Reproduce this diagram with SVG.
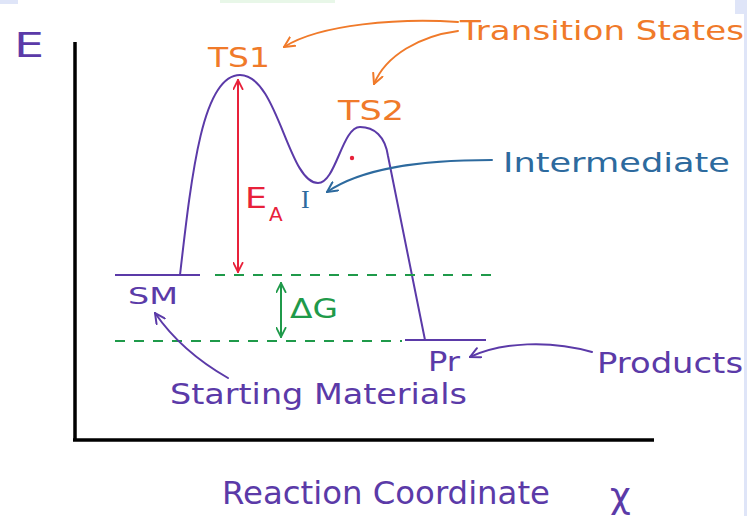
<svg xmlns="http://www.w3.org/2000/svg" width="747" height="516" viewBox="0 0 747 516">
<style>
text{font-family:"DejaVu Sans","Liberation Sans",sans-serif}
.pur{fill:#5b3aa8}.org{fill:#f07a2a}.blu{fill:#2d6a9e}.red{fill:#e8213a}.grn{fill:#1f9a4a}
.ln{fill:none;stroke-width:2;stroke-linecap:round}
.dash{fill:none;stroke:#1f9a4a;stroke-width:2;stroke-dasharray:10 9}
</style>
<defs>
<marker id="mo" viewBox="0 0 12 12" refX="11" refY="6" markerWidth="12" markerHeight="12" markerUnits="userSpaceOnUse" orient="auto-start-reverse"><path d="M1,1 L11,6 L1,11" fill="none" stroke="#f07a2a" stroke-width="2" stroke-linecap="round"/></marker>
<marker id="mb" viewBox="0 0 12 12" refX="11" refY="6" markerWidth="12" markerHeight="12" markerUnits="userSpaceOnUse" orient="auto-start-reverse"><path d="M1,1 L11,6 L1,11" fill="none" stroke="#2d6a9e" stroke-width="2" stroke-linecap="round"/></marker>
<marker id="mp" viewBox="0 0 12 12" refX="11" refY="6" markerWidth="12" markerHeight="12" markerUnits="userSpaceOnUse" orient="auto-start-reverse"><path d="M1,1 L11,6 L1,11" fill="none" stroke="#5b3aa8" stroke-width="2" stroke-linecap="round"/></marker>
<marker id="mr" viewBox="0 0 12 12" refX="11" refY="6" markerWidth="11" markerHeight="11" markerUnits="userSpaceOnUse" orient="auto-start-reverse"><path d="M1,1 L11,6 L1,11" fill="none" stroke="#e8213a" stroke-width="2" stroke-linecap="round"/></marker>
<marker id="mg" viewBox="0 0 12 12" refX="11" refY="6" markerWidth="11" markerHeight="11" markerUnits="userSpaceOnUse" orient="auto-start-reverse"><path d="M1,1 L11,6 L1,11" fill="none" stroke="#1f9a4a" stroke-width="2" stroke-linecap="round"/></marker>
</defs>
<rect width="747" height="516" fill="#ffffff"/>
<rect x="0" y="0" width="18" height="4" fill="#dfe5f8"/>
<rect x="220" y="0" width="115" height="3" fill="#e8f7e8"/>
<rect x="735" y="0" width="12" height="14" fill="#dfe5f8"/>
<rect x="744" y="0" width="3" height="516" fill="#dfe5f8"/>

<g id="axes">
<line x1="75" y1="42" x2="75" y2="441" stroke="#000" stroke-width="3.5"/>
<line x1="73" y1="440" x2="654" y2="440" stroke="#000" stroke-width="3.5"/>
<text x="14" y="57" font-size="34" class="pur" textLength="30" lengthAdjust="spacingAndGlyphs">E</text>
<text x="222" y="504" font-size="32" class="pur" textLength="328" lengthAdjust="spacingAndGlyphs">Reaction Coordinate</text>
<text x="610" y="508" font-size="36" class="pur">χ</text>
</g>

<g id="curve">
<path class="ln" stroke="#5b3aa8" d="M180,275 C192,170 203,75 240,75 C278,75 288,183 318,183 C336,183 342,127 360,127 C374,127 385,136 388,156 L425,340"/>
<line x1="115" y1="275" x2="200" y2="275" stroke="#5b3aa8" stroke-width="2"/>
<line x1="405" y1="340" x2="486" y2="340" stroke="#5b3aa8" stroke-width="2"/>
<circle cx="352" cy="158" r="2.2" fill="#e8213a"/>
</g>

<g id="levels">
<line class="dash" x1="215" y1="275" x2="492" y2="275"/>
<line class="dash" x1="115" y1="341" x2="402" y2="341"/>
</g>

<g id="TS1"><text x="208" y="67" font-size="27" class="org" textLength="62" lengthAdjust="spacingAndGlyphs">TS1</text></g>
<g id="TS2"><text x="338" y="120" font-size="27" class="org" textLength="66" lengthAdjust="spacingAndGlyphs">TS2</text></g>
<g id="transition-states"><text x="460" y="40" font-size="27" class="org" textLength="284" lengthAdjust="spacingAndGlyphs">Transition States</text></g>
<g id="intermediate-label"><text x="503" y="172" font-size="27" class="blu" textLength="227" lengthAdjust="spacingAndGlyphs">Intermediate</text></g>
<g id="I"><text x="301" y="208" font-size="26" class="blu" style="font-family:'Liberation Serif',serif">I</text></g>
<g id="EA"><text x="245" y="208" font-size="28" class="red" textLength="22" lengthAdjust="spacingAndGlyphs">E</text><text x="269" y="221" font-size="20" class="red">A</text></g>
<g id="dG"><text x="290" y="318" font-size="27" class="grn" textLength="48" lengthAdjust="spacingAndGlyphs">ΔG</text></g>
<g id="SM"><text x="128" y="304" font-size="23" class="pur" textLength="50" lengthAdjust="spacingAndGlyphs">SM</text></g>
<g id="starting-materials"><text x="170" y="404" font-size="28" class="pur" textLength="297" lengthAdjust="spacingAndGlyphs">Starting Materials</text></g>
<g id="Pr"><text x="428" y="371" font-size="26" class="pur" textLength="32" lengthAdjust="spacingAndGlyphs">Pr</text></g>
<g id="products"><text x="597" y="373" font-size="28" class="pur" textLength="146" lengthAdjust="spacingAndGlyphs">Products</text></g>

<g id="connectors">
<path class="ln" stroke="#f07a2a" d="M458,22 C400,18 320,24 284,47" marker-end="url(#mo)"/>
<path class="ln" stroke="#f07a2a" d="M458,31 C420,36 386,55 374,84" marker-end="url(#mo)"/>
<path class="ln" stroke="#2d6a9e" d="M492,160 C420,160 362,168 327,192" marker-end="url(#mb)"/>
<path class="ln" stroke="#5b3aa8" d="M228,378 C200,362 175,342 155,313" marker-end="url(#mp)"/>
<path class="ln" stroke="#5b3aa8" d="M592,352 C550,340 502,342 470,357" marker-end="url(#mp)"/>
<line class="ln" stroke="#e8213a" x1="238" y1="80" x2="238" y2="272" marker-start="url(#mr)" marker-end="url(#mr)"/>
<line class="ln" stroke="#1f9a4a" x1="281" y1="283" x2="281" y2="337" marker-start="url(#mg)" marker-end="url(#mg)"/>
</g>
</svg>
